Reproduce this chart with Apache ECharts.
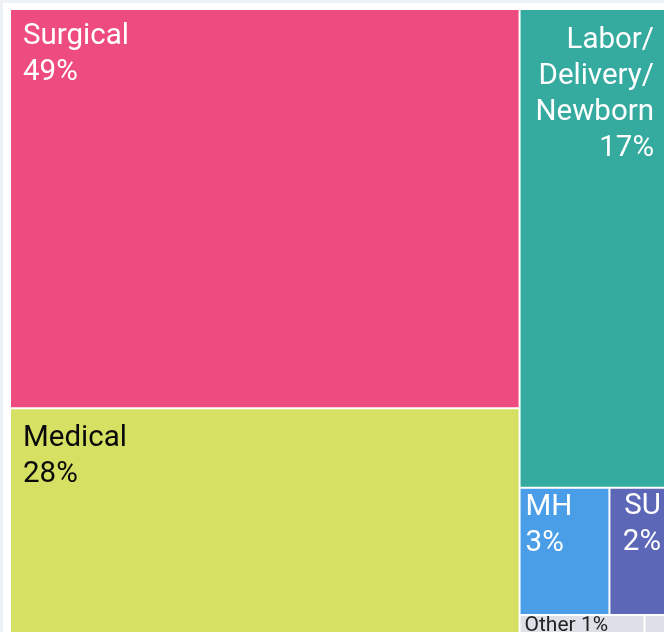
<!DOCTYPE html>
<html>
<head>
<meta charset="utf-8">
<script src="https://cdn.jsdelivr.net/npm/echarts@6/dist/echarts.min.js"></script>
<style>
  html, body { margin: 0; padding: 0; background: #eef2f5; overflow: hidden; }
  #chart { position: absolute; left: 3px; top: 3px; width: 661px; height: 629px; background: #fff; }
</style>
</head>
<body>
<div id="chart"></div>
<script>
// service lines, their relative sizes and the printed shares
var categories = ['Surgical', 'Medical', 'Labor/Delivery/Newborn', 'MH', 'SU', 'Other', 'Unknown']
var sizes = [202.2, 119.9, 71.57, 11.38, 7.67, 3.72, 0.76]
var percentLabels = [49, 28, 17, 3, 2, 1, 0]
var colors = ['#ee4b7f', '#d6e062', '#35aa9f', '#4a9ee8', '#5d67b7', '#dde1e7', '#dde1e7']

var bigLabel = {
  fontFamily: 'Roboto',
  fontSize: 29.5,
  lineHeight: 36,
  color: '#fff',
  position: 'insideTopLeft',
  distance: 0,
  overflow: 'none',
  padding: [9, 12]
}

function labelFor (name) {
  if (name === 'Medical') return Object.assign({}, bigLabel, { color: '#0a0a0a', padding: [11, 12] })
  if (name === 'Labor/Delivery/Newborn') return Object.assign({}, bigLabel, { position: 'insideTopRight', align: 'right', padding: [13, 15] })
  if (name === 'MH') return Object.assign({}, bigLabel, { padding: [1, 5] })
  if (name === 'SU') return Object.assign({}, bigLabel, { position: 'insideTopRight', align: 'right', padding: [0, 8] })
  if (name === 'Other') {
    return {
      fontFamily: 'Roboto', fontSize: 21, lineHeight: 19, color: '#222',
      position: 'insideTopLeft', distance: 0, padding: [0, 4], overflow: 'none',
      formatter: function (p) { return p.name + ' ' + percentLabels[categories.indexOf(p.name)] + '%' }
    }
  }
  if (name === 'Unknown') return { show: false }
  return bigLabel
}

var chart = echarts.init(document.getElementById('chart'))
chart.setOption({
  animation: false,
  series: [{
    type: 'treemap',
    left: 8,
    top: 7,
    width: 658,
    height: 634,
    roam: false,
    nodeClick: false,
    breadcrumb: { show: false },
    itemStyle: { gapWidth: 2, borderWidth: 0, borderColor: '#fff' },
    label: {
      formatter: function (p) {
        var i = categories.indexOf(p.name)
        return p.name.replace(/\//g, '/\n') + '\n' + percentLabels[i] + '%'
      }
    },
    data: categories.map(function (c, i) {
      return {
        name: c,
        value: sizes[i],
        itemStyle: { color: colors[i] },
        label: labelFor(c)
      }
    })
  }]
})
</script>
</body>
</html>
